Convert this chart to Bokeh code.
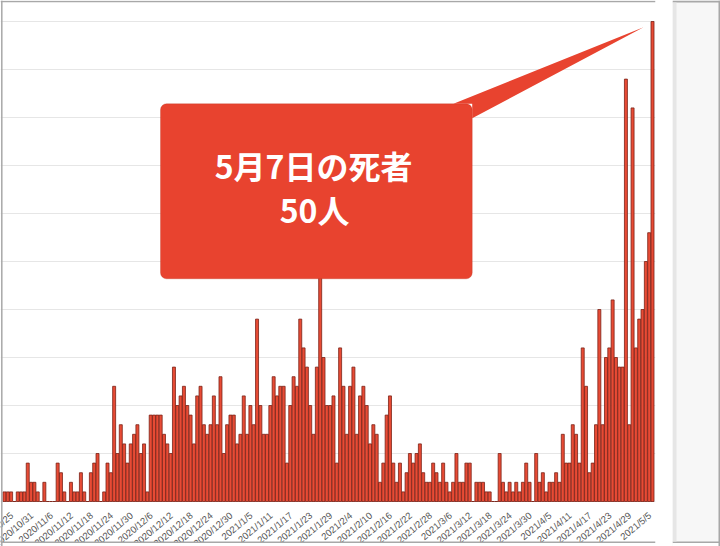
import math
import pandas as pd
from bokeh.plotting import figure
from bokeh.layouts import row
from bokeh.models import (Range1d, ColumnDataSource, Grid, FixedTicker,
                          BoxAnnotation, Label, LabelSet, Span)
from bokeh.core.properties import value
from bokeh.embed import file_html
from bokeh.resources import INLINE

# ---------------- data ----------------
start_date = "2020-10-24"
deaths = [
    1,
    1, 1, 0, 1, 1, 1, 4, 2, 2, 1,
    0, 2, 0, 0, 0, 4, 3, 1, 0, 2,
    1, 1, 3, 1, 0, 3, 4, 5, 0, 1,
    4, 3, 12, 5, 8, 6, 4, 6, 7, 8,
    5, 6, 1, 9, 9, 9, 9, 7, 6, 5,
    14, 10, 11, 12, 10, 9, 6, 11, 12, 8,
    7, 8, 11, 8, 13, 5, 8, 9, 9, 6,
    7, 11, 7, 10, 8, 19, 10, 7, 7, 10,
    13, 11, 12, 12, 4, 10, 13, 12, 19, 16,
    14, 10, 7, 14, 24, 15, 10, 10, 11, 4,
    16, 12, 7, 12, 14, 7, 11, 12, 10, 6,
    8, 7, 2, 4, 9, 11, 4, 2, 4, 1,
    3, 5, 4, 5, 6, 3, 2, 2, 4, 3,
    2, 4, 2, 1, 2, 5, 2, 2, 4, 4,
    0, 2, 2, 2, 1, 1, 0, 0, 5, 2,
    1, 2, 1, 2, 1, 2, 4, 2, 0, 5,
    2, 3, 1, 2, 2, 3, 2, 7, 4, 4,
    8, 7, 4, 16, 12, 3, 4, 8, 20, 8,
    15, 16, 21, 15, 14, 14, 44, 8, 41, 16,
    19, 20, 25, 28, 50,
]
dates = pd.date_range(start_date, periods=len(deaths), freq="D")
day_index = list(range(len(deaths)))

tick_labels = [
    "2020/10/25", "2020/10/31", "2020/11/6", "2020/11/12", "2020/11/18",
    "2020/11/24", "2020/11/30", "2020/12/6", "2020/12/12", "2020/12/18",
    "2020/12/24", "2020/12/30", "2021/1/5", "2021/1/11", "2021/1/17",
    "2021/1/23", "2021/1/29", "2021/2/4", "2021/2/10", "2021/2/16",
    "2021/2/22", "2021/2/28", "2021/3/6", "2021/3/12", "2021/3/18",
    "2021/3/24", "2021/3/30", "2021/4/5", "2021/4/11", "2021/4/17",
    "2021/4/23", "2021/4/29", "2021/5/5",
]
first_tick = 1          # 2020/10/25 is the second day of the series
tick_step = 6
tick_index = [first_tick + k * tick_step for k in range(len(tick_labels))]

grid_values = list(range(0, 55, 5))

callout_line1 = "5月7日の死者"
callout_line2 = "50人"

# ---------------- styles ----------------
BAR_FILL = "#e84b35"
BAR_LINE = "#7a2216"
CALLOUT_FILL = "#e8432f"
CALLOUT_LINE = "#b9321f"
FRAME_GREY = "#a8a8a8"

# ---------------- main chart ----------------
# the frame covers the whole canvas; the date labels live below value 0
p = figure(width=672, height=546,
           x_range=Range1d(-1.197, 195.9), y_range=Range1d(-4.6875, 52.19),
           toolbar_location=None, output_backend="svg",
           x_axis_location=None, y_axis_location=None,
           min_border_left=0, min_border_right=17,
           min_border_top=0, min_border_bottom=0,
           outline_line_color=None,
           background_fill_color="white", border_fill_color="white")

for g in p.grid:
    g.visible = False
p.add_layout(Grid(dimension=1, ticker=FixedTicker(ticks=grid_values),
                  grid_line_color="#e6e6e6", grid_line_width=1))

src = ColumnDataSource(dict(x=day_index, deaths=deaths,
                            date=[d.strftime("%Y/%m/%d") for d in dates]))
p.vbar(x="x", top="deaths", width=0.9, source=src,
       fill_color=BAR_FILL, line_color=BAR_LINE, line_width=0.8)

# rotated date labels under the bars
tick_src = ColumnDataSource(dict(x=tick_index, y=[0] * len(tick_index),
                                 text=tick_labels))
p.add_layout(LabelSet(x="x", y="y", text="text", source=tick_src,
                      angle=math.radians(40), text_align="right",
                      text_baseline="middle", x_offset=4, y_offset=-12.5,
                      text_font=value("Liberation Sans"),
                      text_font_size=value("9.5px"), text_color="#555555"))

# screenshot frame: bottom strip, left and top edges
p.add_layout(BoxAnnotation(bottom=-4.6875, top=-4.24, fill_color="white",
                           fill_alpha=1.0, line_color=None))
p.add_layout(Span(location=-4.24, dimension="width",
                  line_color=FRAME_GREY, line_width=1.5))
p.add_layout(Span(location=-0.806, dimension="height",
                  line_color=FRAME_GREY, line_width=1.5))
p.add_layout(Span(location=52.09, dimension="width",
                  line_color=FRAME_GREY, line_width=1.5))

# callout box
last_i = day_index[-1]
last_v = deaths[-1]
box_left, box_right, box_bottom, box_top = 46.95, 140.75, 23.2, 41.43
p.add_layout(BoxAnnotation(left=box_left, right=box_right,
                           bottom=box_bottom, top=box_top,
                           fill_color=CALLOUT_FILL, fill_alpha=1.0,
                           line_color=CALLOUT_LINE, line_width=1,
                           border_radius=6))

tip_x, tip_y = last_i - 2.7, last_v - 0.6
ptr = p.patch(x=[box_right - 5.65, tip_x, box_right, box_right],
              y=[box_top, tip_y, box_top - 1.5, box_top],
              fill_color=CALLOUT_FILL, line_color=None)
ptr.level = "overlay"

p.add_layout(Label(x=93.0, y=35.1, text=callout_line1,
                   text_align="center", text_baseline="middle",
                   text_font="Noto Sans CJK JP", text_font_style="bold",
                   text_font_size="32px", text_color="white",
                   level="overlay"))
p.add_layout(Label(x=93.3, y=30.5, text=callout_line2,
                   text_align="center", text_baseline="middle",
                   text_font="Noto Sans CJK JP", text_font_style="bold",
                   text_font_size="32px", text_color="white",
                   level="overlay"))

# ---------------- grey side band ----------------
band = figure(width=48, height=546,
              x_range=Range1d(0, 48), y_range=Range1d(0, 546),
              toolbar_location=None, output_backend="svg",
              x_axis_location=None, y_axis_location=None,
              min_border=0, outline_line_color=None,
              background_fill_color="#f7f7f7", border_fill_color="#f7f7f7")
for g in band.grid:
    g.visible = False
band.quad(left=[0, 0, 0], right=[48, 48, 48], bottom=[0, 3.5, 544],
          top=[3.5, 5, 546], fill_color=["white", FRAME_GREY, FRAME_GREY],
          line_color=None)
band.quad(left=[0, 46], right=[4, 47.5], bottom=[5, 0], top=[544, 546],
          fill_color=["#e6e6e6", FRAME_GREY], line_color=None)
band.quad(left=[47.5], right=[48], bottom=[0], top=[546],
          fill_color="white", line_color=None)

layout = row(p, band)
open("out.html", "w").write(file_html(layout, INLINE))
